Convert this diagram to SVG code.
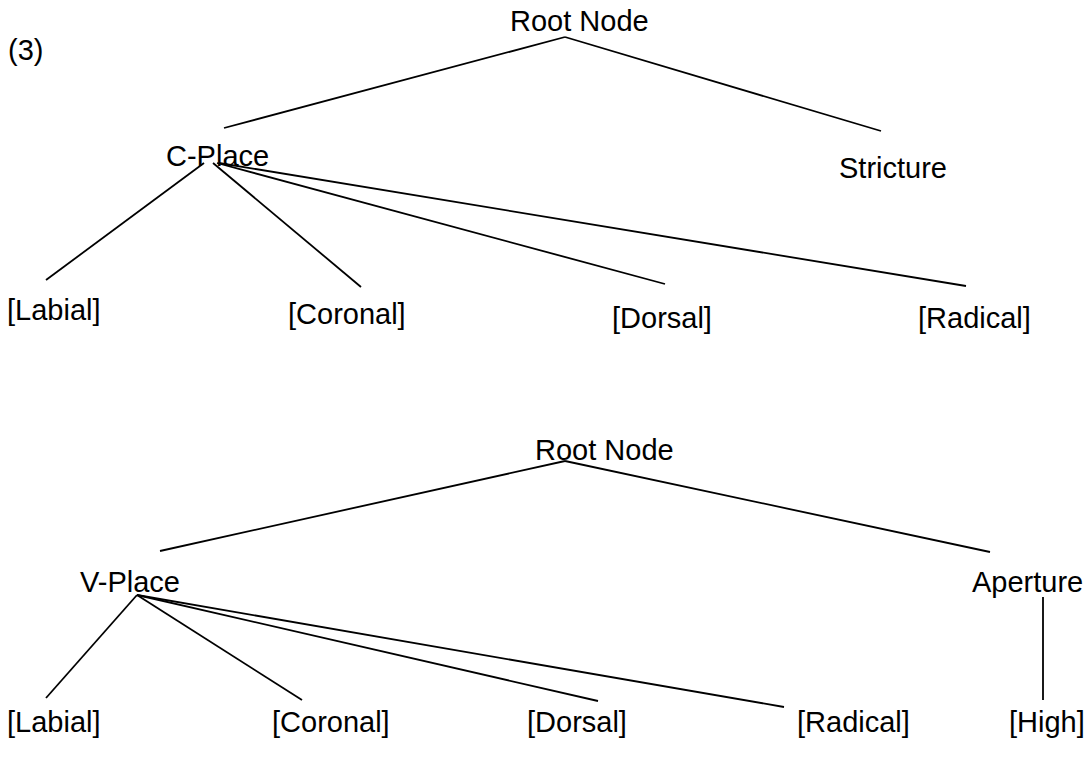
<svg xmlns="http://www.w3.org/2000/svg" width="1092" height="773" viewBox="0 0 1092 773">
<style>
text{font-family:"Liberation Sans",Arial,sans-serif;font-size:29px;fill:#000}
.e line{stroke:#000;stroke-width:1.8}
</style>
<rect width="1092" height="773" fill="#fff"/>
<g id="label3"><text x="8" y="60">(3)</text></g>
<g class="e" id="connectors">
<line x1="565" y1="37" x2="224" y2="128"/>
<line x1="565" y1="37" x2="881" y2="131"/>
<line x1="204" y1="163" x2="46" y2="280"/>
<line x1="213" y1="163" x2="361" y2="287"/>
<line x1="217" y1="163" x2="665" y2="284"/>
<line x1="219" y1="163" x2="966" y2="286"/>
<line x1="565" y1="461" x2="160" y2="551"/>
<line x1="565" y1="461" x2="990" y2="552"/>
<line x1="137" y1="595" x2="46" y2="698"/>
<line x1="137" y1="595" x2="302" y2="700"/>
<line x1="137" y1="595" x2="598" y2="701"/>
<line x1="137" y1="595" x2="784" y2="707"/>
<line x1="1043" y1="597" x2="1043" y2="700"/>
</g>
<g id="root1"><text x="510" y="31">Root Node</text></g>
<g id="cplace"><text x="166" y="166">C-Place</text></g>
<g id="stricture"><text x="839" y="178">Stricture</text></g>
<g id="labial1"><text x="7" y="320">[Labial]</text></g>
<g id="coronal1"><text x="288" y="324">[Coronal]</text></g>
<g id="dorsal1"><text x="612" y="328">[Dorsal]</text></g>
<g id="radical1"><text x="918" y="328">[Radical]</text></g>
<g id="root2"><text x="535" y="460">Root Node</text></g>
<g id="vplace"><text x="80" y="592">V-Place</text></g>
<g id="aperture"><text x="972" y="592">Aperture</text></g>
<g id="labial2"><text x="7" y="732">[Labial]</text></g>
<g id="coronal2"><text x="272" y="732">[Coronal]</text></g>
<g id="dorsal2"><text x="527" y="732">[Dorsal]</text></g>
<g id="radical2"><text x="797" y="732">[Radical]</text></g>
<g id="high"><text x="1009" y="732">[High]</text></g>
</svg>
